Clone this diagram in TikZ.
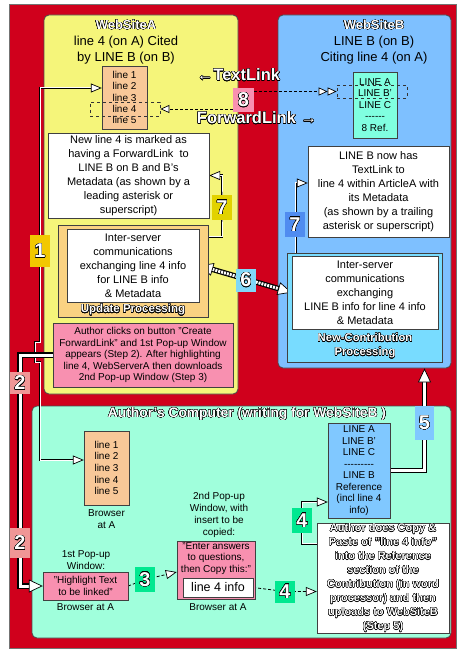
\documentclass[tikz,border=0pt]{standalone}
\usepackage{fontspec}
\setmainfont{Liberation Sans}
\usepackage{contour}
\contourlength{0.3pt}
\contournumber{24}
\usetikzlibrary{arrows.meta,positioning,calc}

\definecolor{webred}{RGB}{208,0,28}
\definecolor{siteyellow}{RGB}{245,245,122}
\definecolor{siteblue}{RGB}{126,192,255}
\definecolor{pcgreen}{RGB}{160,255,220}
\definecolor{peach}{RGB}{248,200,152}
\definecolor{aqua}{RGB}{128,255,224}
\definecolor{updorange}{RGB}{250,210,130}
\definecolor{newcyan}{RGB}{120,220,255}
\definecolor{popink}{RGB}{248,144,176}
\definecolor{tagsalmon}{RGB}{240,150,150}
\definecolor{taggold}{RGB}{242,200,0}
\definecolor{tagolive}{RGB}{226,210,0}
\definecolor{tagblue}{RGB}{80,140,240}
\definecolor{tagsky}{RGB}{128,216,248}
\definecolor{tagmint}{RGB}{0,232,144}
\definecolor{linesblue}{RGB}{128,200,255}

\newcommand\olt[1]{{\bfseries\color{white}\contour{black}{#1}}}
\newcommand\hyphens[1]{\foreach\k in {1,...,#1}{-\kern0pt}}

\pgfdeclarelayer{bg}
\pgfdeclarelayer{wires}
\pgfsetlayers{bg,wires,main}

\begin{document}
\begin{tikzpicture}[
  x=1pt, y=-1pt,
  region/.style={draw=black!70, line width=0.8pt, rounded corners=5pt},
  card/.style={draw=black!75, fill=white, align=center, inner sep=0pt,
               font=\fontsize{11}{14}\selectfont},
  smallcard/.style={draw=black!75, align=center, inner sep=0pt,
               font=\fontsize{10}{11.5}\selectfont},
  header/.style={align=center, font=\fontsize{13}{16}\selectfont},
  note/.style={align=center, inner sep=0pt, font=\fontsize{10}{12}\selectfont},
  outlbl/.style={align=center, inner sep=0pt, font=\fontsize{11.5}{14}\selectfont},
  steptag/.style={inner sep=0pt, minimum width=20pt, font=\fontsize{20}{20}\selectfont},
  dashbox/.style={draw=black!80, dashed, line width=0.7pt, inner sep=0pt},
  hollowtip/.tip={Triangle[length=11pt, width=9pt, fill=white, color=black, line width=0.7pt]},
  smalltip/.tip={Triangle[length=9pt, width=8pt, fill=white, color=black, line width=0.7pt]},
  bigtip/.tip={Triangle[length=14pt, width=13pt, fill=white, color=black, line width=0.7pt]},
  wire/.style={white, line width=1pt, preaction={draw=black, line width=2.6pt, -, shorten >=3pt}},
  twowire/.style={white, line width=1pt, preaction={draw=black, line width=2.6pt, -, shorten >=3pt, shorten <=3pt}},
  dwire/.style={black, line width=0.8pt, dash pattern=on 3pt off 2pt},
  pipe/.style={white, line width=3pt, preaction={draw=black, line width=5.4pt, -, shorten >=7pt}},
  twopipe/.style={white, line width=3pt, dash pattern=on 2pt off 1pt,
                  preaction={draw=black, solid, line width=5.4pt, -, shorten >=7pt, shorten <=7pt}}
]
\useasboundingbox (0,0) rectangle (463,660);

\begin{pgfonlayer}{bg}
\fill[white] (0,0) rectangle (463,660);
\draw[fill=webred, draw=black!55, line width=1pt] (9,5) rectangle (456,648);
\node[region, fill=siteyellow, minimum width=194pt, minimum height=379pt] (siteA) at (141,204.5) {};
\node[region, fill=siteblue, minimum width=173pt, minimum height=353pt] (siteB) at (364.5,191.5) {};
\node[region, fill=pcgreen, minimum width=419pt, minimum height=232pt] (authorPC) at (241.5,522) {};
\end{pgfonlayer}

% ---------- WebSiteA ----------
\node[header] (titleA) at (126,42) {\olt{WebSiteA}\\line 4 (on A) Cited\\by LINE B (on B)};
\node[smallcard, fill=peach, minimum width=45pt, minimum height=63pt,
      font=\fontsize{10}{11.3}\selectfont] (linesA) at (124.5,97.5) {line 1\\line 2\\line 3\\line 4\\line 5};
\node[dashbox, minimum width=70pt, minimum height=14pt] (dashA) at (125,109) {};
\node[card, minimum width=161pt, minimum height=85pt] (markA) at (128.5,175.5)
  {New line 4 is marked as\\having a ForwardLink\ \ to\\LINE B on B and B's\\Metadata (as shown by a\\leading asterisk or\\superscript)};
\node[draw=black!75, fill=updorange, inner sep=0pt, minimum width=150pt, minimum height=92pt] (updA) at (133,271) {};
\node[card, minimum width=132pt, minimum height=73pt] (inA) at (133,265.5)
  {Inter-server\\communications\\exchanging line 4 info\\for LINE B info\\\& Metadata};
\node[outlbl] (updLbl) at (133,310) {\olt{Update Processing}};
\node[smallcard, fill=popink, minimum width=180pt, minimum height=64pt] (clickA) at (143,355)
  {Author clicks on button "Create\\ForwardLink" and 1st Pop-up Window\\appears (Step 2). After highlighting\\line 4, WebServerA then downloads\\2nd Pop-up Window (Step 3)};

% ---------- WebSiteB ----------
\node[header] (titleB) at (374,42) {\olt{WebSiteB}\\LINE B (on B)\\Citing line 4 (on A)};
\node[smallcard, fill=aqua, minimum width=44pt, minimum height=66pt] (linesB) at (375,105)
  {LINE A\\LINE B'\\LINE C\\\hyphens{6}\\8 Ref.};
\node[dashbox, minimum width=70pt, minimum height=13pt] (dashB) at (372,91.5) {};
\node[card, minimum width=141pt, minimum height=91pt] (noteB) at (378.5,191.5)
  {LINE B now has\\TextLink to\\line 4 within ArticleA with\\its Metadata\\(as shown by a trailing\\asterisk or superscript)};
\node[draw=black!75, fill=newcyan, inner sep=0pt, minimum width=155pt, minimum height=109pt] (newB) at (364.5,307.5) {};
\node[card, minimum width=146pt, minimum height=73pt] (inB) at (365,292.5)
  {Inter-server\\communications\\exchanging\\LINE B info for line 4 info\\\& Metadata};
\node[outlbl, font=\fontsize{11.3}{14}\selectfont] (newLbl) at (365,346) {\olt{New-Contribution}\\\olt{Processing}};

% ---------- links between the sites ----------
\node[font=\fontsize{16.5}{17}\selectfont] (textLink) at (238.5,75) {\olt{←TextLink}};
\node[font=\fontsize{16.5}{17}\selectfont] (fwdLink) at (257,118) {\olt{ForwardLink →}};

% ---------- Author's Computer ----------
\node[font=\fontsize{13.8}{16}\selectfont] (pcTitle) at (247,414) {\olt{Author's Computer (writing for WebSiteB )}};
\node[smallcard, fill=peach, minimum width=45pt, minimum height=74pt,
      font=\fontsize{10}{11.7}\selectfont] (browL) at (106.5,468) {line 1\\line 2\\line 3\\line 4\\line 5};
\node[note] (browCap) at (106.5,519) {Browser\\at A};
\node[note] (pop1Cap) at (86,560.5) {1st Pop-up\\Window:};
\node[smallcard, fill=popink, minimum width=85pt, minimum height=28pt] (hlA) at (85.5,586) {"Highlight Text\\to be linked"};
\node[note] (hlCap) at (85.5,607.5) {Browser at A};
\node[note] (pop2Cap) at (219,515) {2nd Pop-up\\Window, with\\insert to be\\copied:};
\node[draw=black!75, fill=popink, inner sep=0pt, minimum width=78pt, minimum height=58pt] (pop2) at (216,570) {};
\node[note, font=\fontsize{10}{11.5}\selectfont] (pop2Txt) at (216,558.5) {"Enter answers\\to questions,\\then Copy this:"};
\node[draw=black!75, fill=white, inner sep=0pt, minimum width=70pt, minimum height=19pt,
      font=\fontsize{12.5}{14}\selectfont] (line4) at (218,587.5) {line 4 info};
\node[note] (pop2Foot) at (218,607) {Browser at A};
\node[smallcard, fill=linesblue, minimum width=62pt, minimum height=95pt] (linesC) at (359,470.5)
  {LINE A\\LINE B'\\LINE C\\\hyphens{9}\\LINE B\\Reference\\(incl line 4\\info)};
\node[card, minimum width=132pt, minimum height=110pt] (authBox) at (383,578)
  {\olt{Author does Copy \&}\\\olt{Paste of "line 4 info"}\\\olt{into the Reference}\\\olt{section of the}\\
   \olt{Contribution (in word}\\\olt{processor) and then}\\\olt{uploads to WebSiteB}\\\olt{(Step 5)}};

% ---------- step tags ----------
\node[steptag, fill=taggold, minimum height=32pt] (lab1) at (40,251) {\olt{1}};
\node[steptag, fill=tagsalmon, minimum height=22pt] (lab2a) at (20,383) {\olt{2}};
\node[steptag, fill=tagsalmon, minimum height=30pt] (lab2b) at (20,543) {\olt{2}};
\node[steptag, fill=tagmint, minimum height=25pt] (lab3) at (145,579.5) {\olt{3}};
\node[steptag, fill=tagmint, minimum height=25pt] (lab4a) at (302,520.5) {\olt{4}};
\node[steptag, fill=tagmint, minimum height=22pt] (lab4b) at (285,591.5) {\olt{4}};
\node[steptag, fill=linesblue, minimum width=19pt, minimum height=34pt] (lab5) at (424.5,423) {\olt{5}};
\node[steptag, fill=tagsky, minimum height=23pt] (lab6) at (246,280) {\olt{6}};
\node[steptag, fill=tagolive, minimum height=25pt] (lab7a) at (222,207.5) {\olt{7}};
\node[steptag, fill=tagblue, minimum height=25pt] (lab7b) at (295,224.5) {\olt{7}};
\node[steptag, fill=popink, minimum width=21pt, minimum height=24pt] (lab8) at (243.5,100) {\olt{8}};

\coordinate (hopT) at (40,342);
\coordinate (hopB) at (40,362);

% ---------- connectors ----------
\begin{pgfonlayer}{wires}
\draw[twowire, arrows={hollowtip-hollowtip}] ([yshift=9.5pt]linesA.west) -| (hopT) -- ++(-5,0) -- ++(0,20) -- (hopB) |- ([yshift=8pt]browL.west);
\draw[pipe, arrows={-bigtip}] (clickA.west) -| (lab2a.center) |- (hlA.west);
\draw[dwire, arrows={-hollowtip}] (hlA.east) -- (lab3.center) -- ([yshift=-2pt]pop2.west);
\draw[dwire, arrows={-hollowtip}] (line4.east) -- (lab4b.center) -- (lab4b.center -| authBox.west);
\draw[wire, arrows={-hollowtip}] ([yshift=-21pt]authBox.north west) -| (lab4a.center) |- ([yshift=-31.5pt]linesC.west);
\draw[pipe, arrows={-bigtip}] (linesC.east) -| (lab5.center |- siteB.south);
\draw[twopipe, arrows={bigtip-bigtip}] (inA.east) -- (inB.west);
\draw[wire, arrows={-hollowtip}] ([yshift=-12pt]updA.north east) -| (lab7a.center) |- (markA.east);
\draw[wire, arrows={-hollowtip}] ([xshift=9pt]newB.north west) |- ([yshift=8.5pt]noteB.west);
\draw[dwire, arrows={-smalltip}] (lab8.west |- dashA.east) -- (dashA.east);
\draw[dwire, arrows={-smalltip[]smalltip[]}] (lab8.east |- dashB.west) -- (dashB.west);
\end{pgfonlayer}

\end{tikzpicture}
\end{document}
